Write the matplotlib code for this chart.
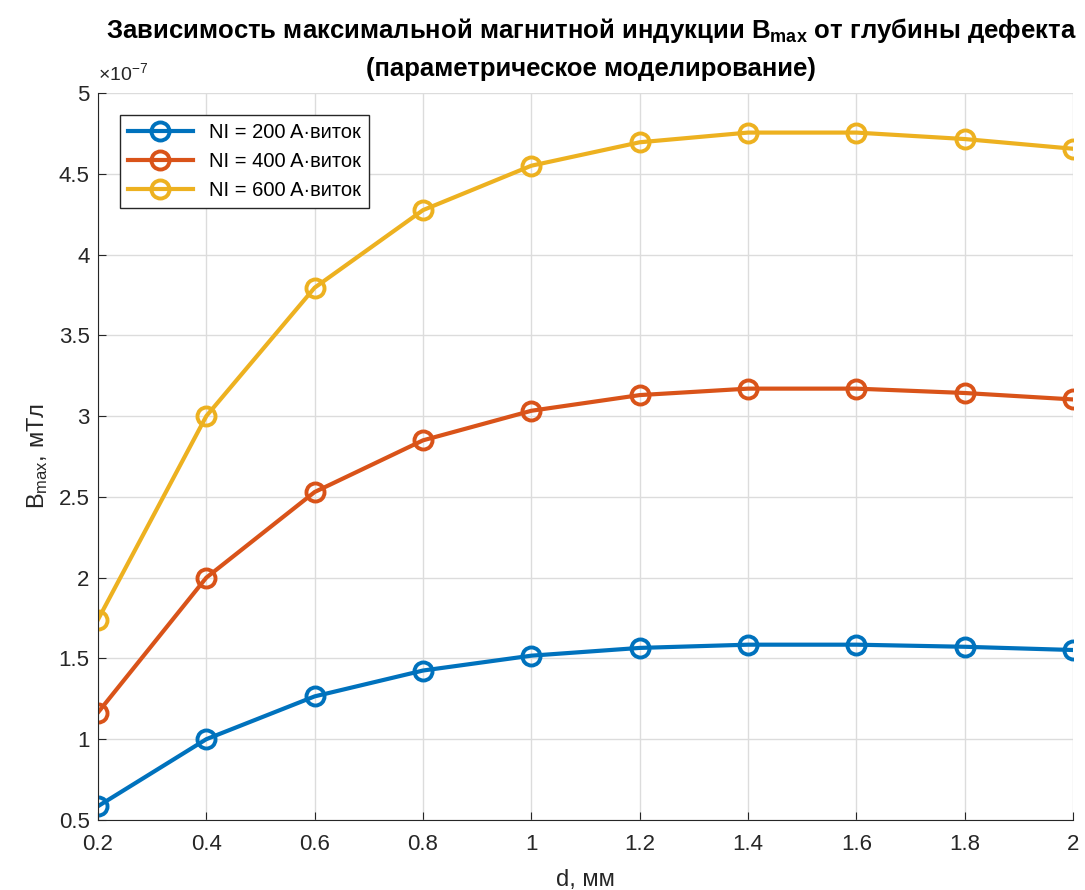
import matplotlib
matplotlib.use("Agg")
import matplotlib.pyplot as plt
from matplotlib.ticker import FuncFormatter

plt.rcParams['font.family'] = ['Liberation Sans', 'DejaVu Sans']
plt.rcParams['mathtext.fontset'] = 'custom'
plt.rcParams['mathtext.rm'] = 'Liberation Sans'
plt.rcParams['mathtext.it'] = 'Liberation Sans'
plt.rcParams['mathtext.bf'] = 'Liberation Sans:bold'

# данные (B в единицах 1e-7)
d = [0.2, 0.4, 0.6, 0.8, 1.0, 1.2, 1.4, 1.6, 1.8, 2.0]
b200 = [0.585, 1.0, 1.265, 1.425, 1.517, 1.565, 1.585, 1.585, 1.572, 1.552]
b400 = [1.165, 2.0, 2.53, 2.85, 3.033, 3.13, 3.17, 3.17, 3.143, 3.103]
b600 = [1.74, 3.0, 3.795, 4.275, 4.55, 4.695, 4.755, 4.755, 4.715, 4.655]
labels = ['NI = 200 A·виток', 'NI = 400 A·виток', 'NI = 600 A·виток']
colors = ['#0072BD', '#D95319', '#EDB120']
yticks = [0.5, 1, 1.5, 2, 2.5, 3, 3.5, 4, 4.5, 5]
title1 = 'Зависимость максимальной магнитной индукции B$_{\\mathbf{max}}$ от глубины дефекта'
title2 = '(параметрическое моделирование)'

fig = plt.figure(figsize=(10.85, 8.9), dpi=100)
ax = fig.add_axes([0.0903, 0.0787, 0.8987, 0.8168])

for vals, lab, c in zip([b200, b400, b600], labels, colors):
    ax.plot(d, vals, '-o', color=c, lw=3, ms=13, mfc='none', mew=2.8, label=lab)

ax.set_xlim(0.2, 2.0)
ax.set_ylim(0.5, 5)
ax.set_xticks(d)
ax.set_yticks(yticks)
ax.xaxis.set_major_formatter(FuncFormatter(lambda v, p: '%g' % round(v, 2)))
ax.yaxis.set_major_formatter(FuncFormatter(lambda v, p: '%g' % round(v, 2)))
ax.text(0.0, 1.012, '×10$^{-7}$', transform=ax.transAxes, fontsize=14,
        color='#262626', ha='left', va='bottom')

ax.grid(True, color='#dcdcdc', lw=1)
ax.tick_params(direction='in', labelsize=16, colors='#262626', length=6)
ax.tick_params(axis='x', pad=10)
ax.tick_params(axis='y', pad=6)
for s in ['top', 'right']:
    ax.spines[s].set_visible(False)
for s in ['left', 'bottom']:
    ax.spines[s].set_color('#262626')

ax.set_xlabel('d, мм', fontsize=17, color='#262626', labelpad=10)
ax.set_ylabel('B$_{max}$, мТл', fontsize=17, color='#262626', labelpad=6)

# заголовок в две строки
fig.text(0.545, 0.966, title1, fontsize=18.5, fontweight='bold', ha='center', va='center')
fig.text(0.545, 0.922, title2, fontsize=18.5, fontweight='bold', ha='center', va='center')

leg = ax.legend(loc='upper left', fontsize=14.5, handlelength=3.2, fancybox=False,
                edgecolor='#262626', framealpha=1, borderaxespad=1.1)
leg.get_frame().set_linewidth(1)

fig.savefig('out.png', dpi=100)
